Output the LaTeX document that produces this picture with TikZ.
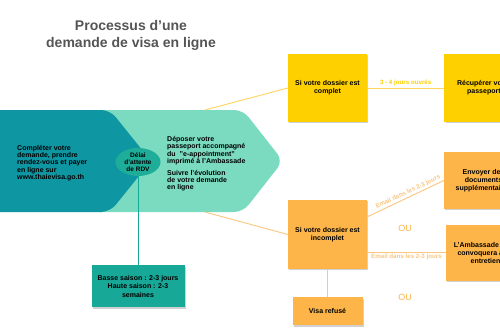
\documentclass[tikz,border=0pt]{standalone}
\usepackage{fontspec}
\setmainfont{Liberation Sans}
\usetikzlibrary{positioning,shapes.geometric,shadows}
\definecolor{DeepTeal}{HTML}{0E97A3}
\definecolor{Mint}{HTML}{7ADBC0}
\definecolor{Jade}{HTML}{1EAD98}
\definecolor{Lagoon}{HTML}{17A898}
\definecolor{Sun}{HTML}{FFD000}
\definecolor{SunLine}{HTML}{FFD45C}
\definecolor{Amber}{HTML}{FDB549}
\definecolor{AmberLine}{HTML}{FBC680}
\definecolor{Slate}{HTML}{555555}
\tikzset{
  phasetext/.style={
    align=left, inner sep=0pt, text=black,
    font=\fontsize{7}{7.3}\selectfont\bfseries
  },
  waitbubble/.style={
    ellipse, fill=Jade, inner sep=0pt, align=center,
    minimum width=45pt, minimum height=28pt,
    font=\fontsize{6.5}{7}\selectfont\bfseries
  },
  card/.style={
    align=center, inner sep=2pt, text=black,
    font=\fontsize{7}{8.3}\selectfont\bfseries,
    drop shadow={shadow xshift=1.2pt, shadow yshift=-1.2pt, opacity=0.3, fill=black!60}
  },
  okcard/.style={card, fill=Sun, minimum width=79pt, minimum height=68pt},
  kocard/.style={card, fill=Amber, minimum width=79pt},
  seasoncard/.style={card, fill=Lagoon, minimum width=93pt, minimum height=42pt},
  sunflow/.style={draw=SunLine, line width=0.9pt},
  amberflow/.style={draw=AmberLine, line width=0.9pt},
  lagoonflow/.style={draw=Lagoon, line width=1pt},
  steplabel/.style={font=\fontsize{6.2}{7}\selectfont\bfseries, inner sep=1.5pt},
  ornote/.style={font=\fontsize{9}{10}\selectfont, text=Amber}
}

\begin{document}
\begin{tikzpicture}[x=1pt,y=-1pt]
    \useasboundingbox (0,0) rectangle (500,330);
    \clip (0,0) rectangle (500,330);
    \fill[white] (0,0) rectangle (500,330);
    % title
    \node[font=\fontsize{14}{17}\selectfont\bfseries, text=Slate, align=center] (title) at (131,35) {Processus d’une\\demande de visa en ligne};
    % big arrow
    \fill[Mint, rounded corners=9pt] (90,110) -- (243,110) -- (283,161) -- (243,212) -- (90,212) -- cycle;
    \fill[DeepTeal, rounded corners=9pt] (-10,110) -- (110,110) -- (151,161) -- (110,212) -- (-10,212) -- cycle;
    \coordinate (mintN) at (205,110);
    \coordinate (mintS) at (205,212);
    \node[phasetext, anchor=west] (apply) at (17,163) {Compléter votre\\demande, prendre\\rendez-vous et payer\\en ligne sur\\www.thaievisa.go.th};
    \node[phasetext, anchor=west] (deposit) at (167,164) {Déposer votre\\passeport accompagné\\du~~"e-appointment"\\imprimé à l'Ambassade\\[4.5pt]Suivre l'évolution\\de votre demande\\en ligne};
    \node[waitbubble] (delay) at (138,162) {Délai\\d'attente\\de RDV};
    \node[seasoncard, below=89pt of delay] (saison) {Basse saison : 2-3 jours\\Haute saison : 2-3\\semaines};
    % outcomes
    \node[okcard] (complet) at (327.5,88) {Si votre dossier est\\complet};
    \node[okcard, right=77pt of complet] (recup) {Récupérer votre\\passeport};
    \node[kocard, minimum height=69pt] (incomplet) at (327.5,234.5) {Si votre dossier est\\incomplet};
    \node[kocard, minimum height=57pt] (envoyer) at (483.5,180.5) {Envoyer des\\documents\\supplémentaires};
    \node[kocard, minimum height=56pt] (convoc) at (485.5,253) {L'Ambassade vous\\convoquera à un\\entretien};
    \node[kocard, minimum width=70pt, minimum height=28pt, below=28pt of incomplet] (refus) {Visa refusé};
    \node[ornote] (ou1) at (405,228) {OU};
    \node[ornote] (ou2) at (405,297) {OU};
    % links
    \draw[lagoonflow] (delay) -- (saison);
    \draw[sunflow] (mintN) -- (complet.west);
    \draw[sunflow] (complet) -- node[steplabel, above, text=Sun] {3 - 4 jours ouvrés} (recup);
    \draw[amberflow] (mintS) -- (incomplet.west);
    \draw[amberflow] (incomplet.24) -- node[steplabel, sloped, above, pos=0.56, text=AmberLine] {Email dans les 2-3 jours} (envoyer.west);
    \draw[amberflow] (incomplet.-24) -- node[steplabel, below, text=AmberLine] {Email dans les 2-3 jours} (incomplet.-24 -| convoc.west);
    \draw[amberflow] (incomplet) -- (refus);
\end{tikzpicture}
\end{document}
